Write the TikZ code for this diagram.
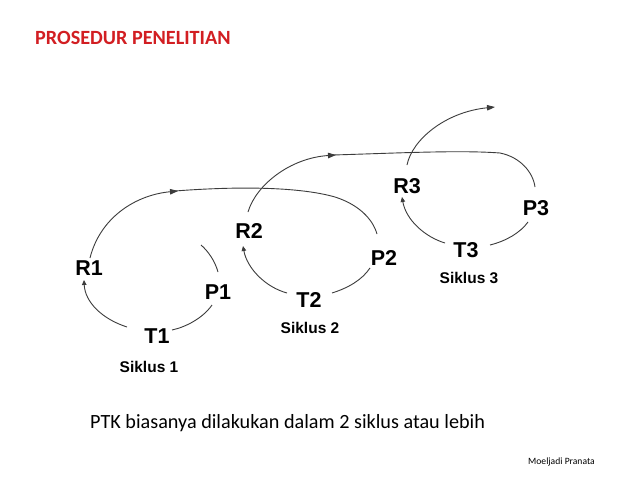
\documentclass[tikz,border=0pt]{standalone}
\usepackage{fontspec}
\setmainfont{Carlito}
\newfontfamily\arialf{Liberation Sans}
\usetikzlibrary{arrows.meta}
\definecolor{titlered}{RGB}{210,30,34}
\definecolor{linegray}{RGB}{60,60,60}
\begin{document}
\begin{tikzpicture}[x=1pt,y=-1pt,
  lbl/.style={anchor=base,inner sep=0pt,font=\arialf\bfseries\fontsize{21.5}{22}\selectfont},
  sik/.style={anchor=base,inner sep=0pt,font=\arialf\bfseries\fontsize{15.5}{16}\selectfont},
  conn/.style={draw=linegray,line width=0.9pt},
  tipsmall/.style={-{Triangle[length=5pt,width=4.5pt]}},
  tipbig/.style={-{Triangle[length=8pt,width=5.5pt]}}]
\useasboundingbox (0,0) rectangle (638,479);
\fill[white] (0,0) rectangle (638,479);
% texts
\node[anchor=base west,inner sep=0pt,text=titlered,font=\bfseries\fontsize{20.2}{22}\selectfont] (title) at (35,45) {PROSEDUR PENELITIAN};
\node[anchor=base west,inner sep=0pt,font=\fontsize{20.2}{22}\selectfont] (note) at (90,428) {PTK biasanya dilakukan dalam 2 siklus atau lebih};
\node[anchor=base west,inner sep=0pt,font=\fontsize{9.6}{11}\selectfont] (author) at (528,464) {Moeljadi Pranata};
% labels
\node[lbl] (R1) at (89,275) {R1};
\node[lbl] (P1) at (218,299) {P1};
\node[lbl] (T1) at (157,343) {T1};
\node[sik] (S1) at (149,372) {Siklus 1};
\node[lbl] (R2) at (249,238) {R2};
\node[lbl] (P2) at (384,265) {P2};
\node[lbl] (T2) at (309,307) {T2};
\node[sik] (S2) at (310,333) {Siklus 2};
\node[lbl] (R3) at (407,193) {R3};
\node[lbl] (P3) at (536,215) {P3};
\node[lbl] (T3) at (466,257) {T3};
\node[sik] (S3) at (469,283) {Siklus 3};
% connector end points
\coordinate (t1l) at (127,327); \coordinate (r1b) at (84,280);
\coordinate (t1r) at (172,330); \coordinate (p1b) at (212,305);
\coordinate (p1t) at (218,272); \coordinate (p1e) at (201,245);
\coordinate (r1t) at (90,258);  \coordinate (m1) at (178,191); \coordinate (m1s) at (175,191);
\coordinate (p2t) at (377,234);
\coordinate (t2l) at (287,293); \coordinate (r2b) at (243,246);
\coordinate (t2r) at (332,293); \coordinate (p2b) at (370,268);
\coordinate (r2t) at (248,212); \coordinate (m2) at (336,155); \coordinate (m2s) at (333,155);
\coordinate (p3t) at (535,187);
\coordinate (t3l) at (445,243); \coordinate (r3b) at (402,197);
\coordinate (t3r) at (490,245); \coordinate (p3b) at (528,222);
\coordinate (r3t) at (407,165); \coordinate (endp) at (495,107);
% cycle 1
\draw[conn,tipsmall] (t1l) .. controls (102,319) and (85,302) .. (r1b);
\draw[conn] (t1r) .. controls (186,327) and (203,318) .. (p1b);
\draw[conn] (p1t) .. controls (215,261) and (208,251) .. (p1e);
\draw[conn,tipbig] (r1t) .. controls (100,218) and (135,195) .. (m1);
\draw[conn] (m1s) .. controls (240,186) and (300,187) .. (335,197) .. controls (360,205) and (373,220) .. (p2t);
% cycle 2
\draw[conn,tipsmall] (t2l) .. controls (265,287) and (247,268) .. (r2b);
\draw[conn] (t2r) .. controls (348,288) and (362,280) .. (p2b);
\draw[conn,tipbig] (r2t) .. controls (256,185) and (290,158) .. (m2);
\draw[conn] (m2s) .. controls (400,153) and (460,150) .. (500,153) .. controls (520,157) and (533,172) .. (p3t);
% cycle 3
\draw[conn,tipsmall] (t3l) .. controls (425,237) and (406,220) .. (r3b);
\draw[conn] (t3r) .. controls (506,241) and (520,233) .. (p3b);
\draw[conn,tipbig] (r3t) .. controls (412,140) and (445,112) .. (endp);
\end{tikzpicture}
\end{document}
